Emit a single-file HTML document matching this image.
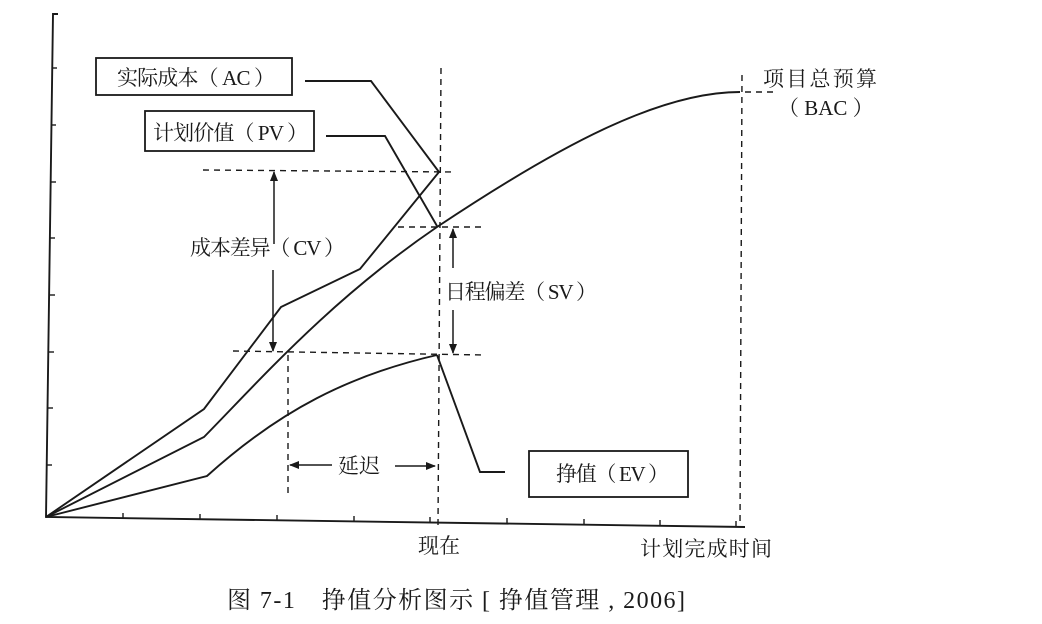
<!DOCTYPE html>
<html><head><meta charset="utf-8"><style>
html,body{margin:0;padding:0;background:#fff;}
svg{display:block;}
text{font-family:"Liberation Serif","Noto Serif CJK SC","Noto Sans CJK SC",serif;fill:#1a1a1a;}
</style></head><body>
<svg width="1042" height="624" viewBox="0 0 1042 624" xmlns="http://www.w3.org/2000/svg">
<defs>
<marker id="ah" viewBox="0 0 10 10" refX="9" refY="5" markerWidth="10" markerHeight="10" orient="auto-start-reverse" markerUnits="userSpaceOnUse">
<path d="M0,1 L10,5 L0,9 Z" fill="#1a1a1a"/></marker>
</defs>
<g stroke="#1a1a1a" fill="none" stroke-width="1.9">
<polyline points="58,14 53,14 46,517 745,527"/>
<g stroke-width="1.4">
<line x1="52" y1="68" x2="57" y2="68"/><line x1="51" y1="125" x2="56" y2="125"/>
<line x1="51" y1="182" x2="56" y2="182"/><line x1="50" y1="238" x2="55" y2="238"/>
<line x1="50" y1="295" x2="55" y2="295"/><line x1="49" y1="352" x2="54" y2="352"/>
<line x1="48" y1="408" x2="53" y2="408"/><line x1="47" y1="465" x2="52" y2="465"/>
<line x1="123" y1="518" x2="123" y2="513"/><line x1="200" y1="519" x2="200" y2="514"/>
<line x1="277" y1="520" x2="277" y2="515"/><line x1="354" y1="521" x2="354" y2="516"/>
<line x1="430" y1="522" x2="430" y2="517"/><line x1="507" y1="523" x2="507" y2="518"/>
<line x1="584" y1="524" x2="584" y2="519"/><line x1="660" y1="525" x2="660" y2="520"/>
<line x1="736" y1="526" x2="736" y2="521"/>
</g>
<polyline points="46,517 204,409 281,307 360,269 439,172"/>
<path d="M46,517 L204,437 C260,380 330,300 437,227 C560,145 660,92 740,92"/>
<path d="M46,517 L207,476 C280,410 350,375 437,355"/>
<polyline points="305,81 371,81 439,172"/>
<polyline points="326,136 385,136 437,226"/>
<polyline points="437,355 480,472 505,472"/>
</g>
<g stroke="#1a1a1a" stroke-width="1.4" stroke-dasharray="6,5" fill="none">
<line x1="203" y1="170" x2="455" y2="172"/>
<line x1="398" y1="227" x2="484" y2="227"/>
<line x1="233" y1="351" x2="485" y2="355"/>
<line x1="441" y1="68" x2="438" y2="525"/>
<line x1="288" y1="355" x2="288" y2="497"/>
<line x1="742" y1="75" x2="740" y2="526"/>
<line x1="745" y1="92" x2="775" y2="92"/>
</g>
<g stroke="#1a1a1a" stroke-width="1.5" fill="none">
<line x1="274" y1="244" x2="274" y2="172" marker-end="url(#ah)"/>
<line x1="273" y1="270" x2="273" y2="351" marker-end="url(#ah)"/>
<line x1="453" y1="268" x2="453" y2="229" marker-end="url(#ah)"/>
<line x1="453" y1="310" x2="453" y2="353" marker-end="url(#ah)"/>
<line x1="332" y1="465" x2="290" y2="465" marker-end="url(#ah)"/>
<line x1="395" y1="466" x2="435" y2="466" marker-end="url(#ah)"/>
</g>
<g stroke="#1a1a1a" stroke-width="1.8" fill="#fff">
<rect x="96" y="58" width="196" height="37"/>
<rect x="145" y="111" width="169" height="40"/>
<rect x="529" y="451" width="159" height="46"/>
</g>
<g font-size="21">
<text x="117" y="85" textLength="158" lengthAdjust="spacing">实际成本（ AC ）</text>
<text x="153" y="140" textLength="155" lengthAdjust="spacing">计划价值（ PV ）</text>
<text x="190" y="255" textLength="155" lengthAdjust="spacing">成本差异（ CV ）</text>
<text x="445" y="299" textLength="152" lengthAdjust="spacing">日程偏差（ SV ）</text>
<text x="556" y="481" textLength="113" lengthAdjust="spacing">挣值（ EV ）</text>
<text x="338" y="473">延迟</text>
<text x="763" y="86" textLength="114" lengthAdjust="spacing">项目总预算</text>
<text x="778" y="115">（ BAC ）</text>
<text x="418" y="553">现在</text>
<text x="640" y="556" textLength="132" lengthAdjust="spacing">计划完成时间</text>
<text x="227" y="608" font-size="24" textLength="458" lengthAdjust="spacing">图 7-1　挣值分析图示 [ 挣值管理 , 2006]</text>
</g>
</svg>
</body></html>
